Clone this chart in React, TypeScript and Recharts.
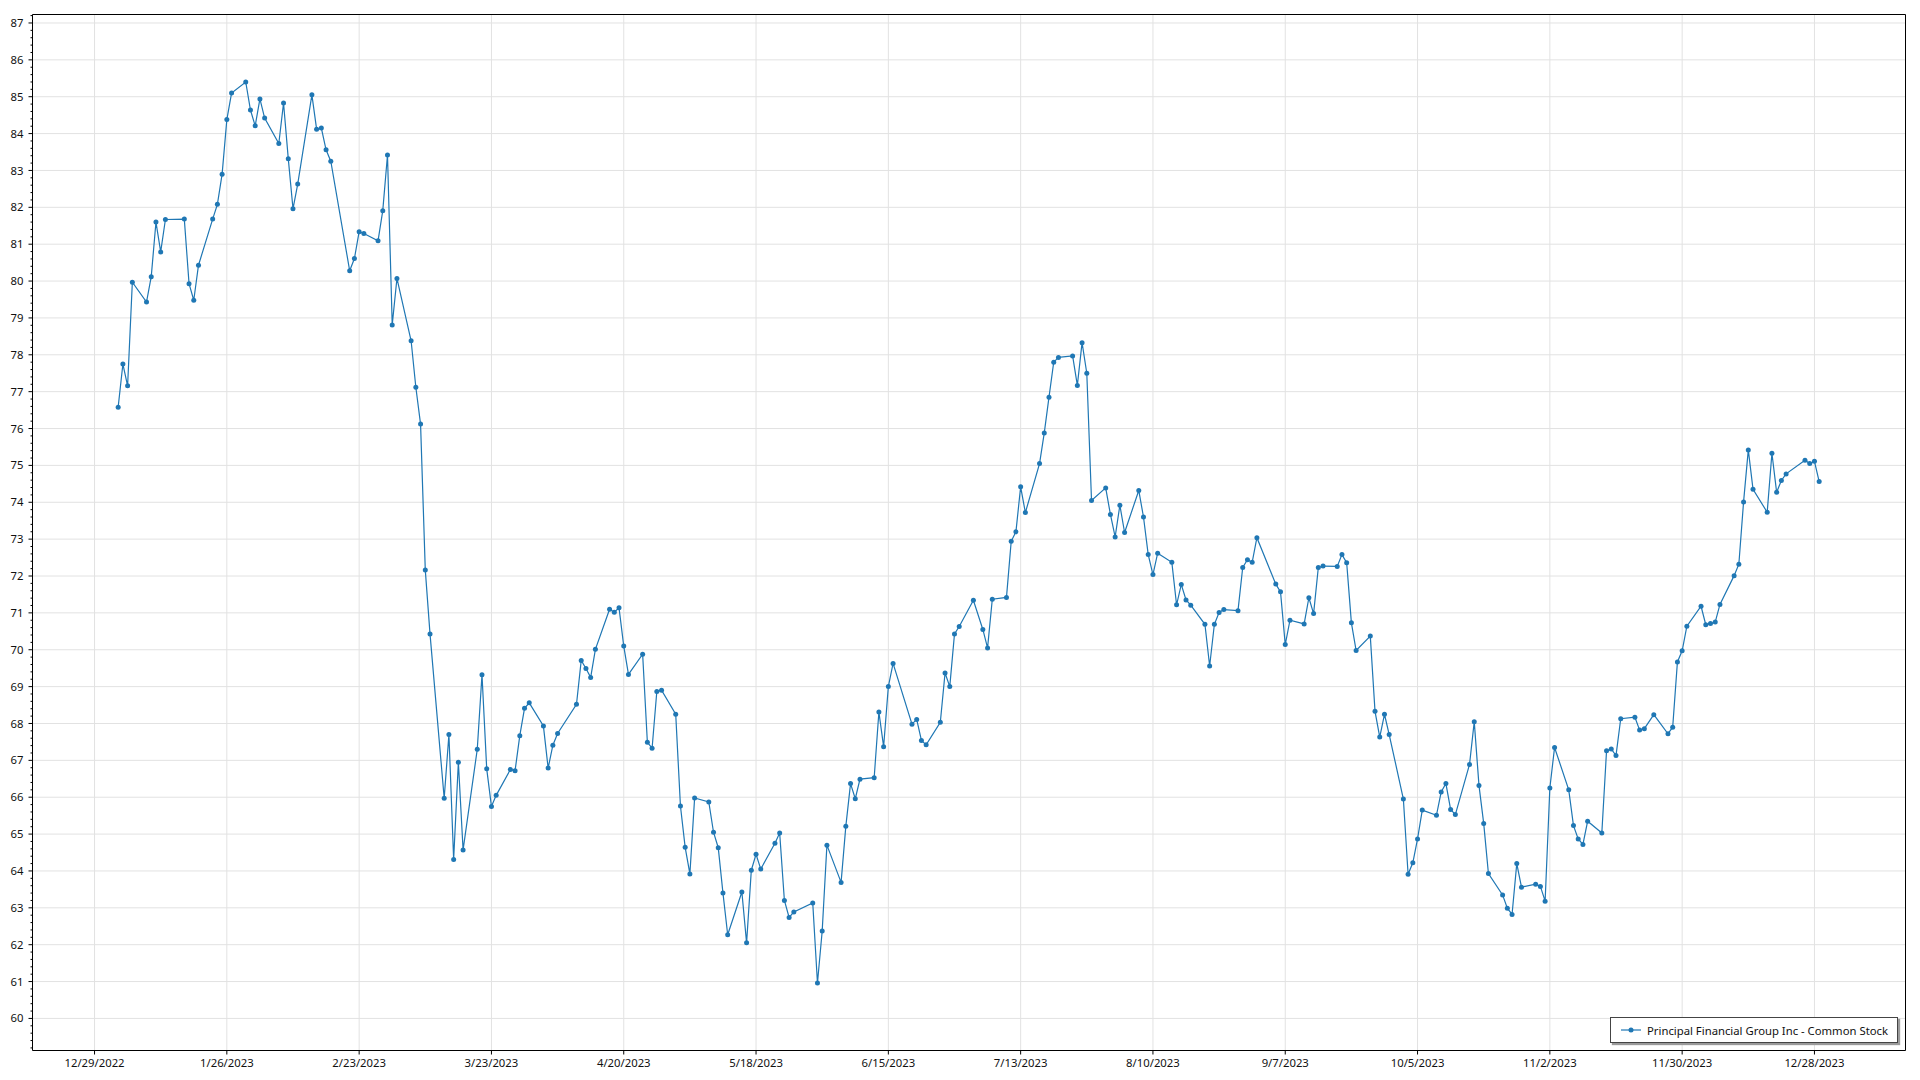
import React from "react";
import { LineChart, Line, XAxis, YAxis, CartesianGrid } from "recharts";

// closing prices per trading day, month by month (2023)
const JAN_DAYS = [3, 4, 5, 6, 9, 10, 11, 12, 13, 17, 18, 19, 20, 23, 24, 25, 26, 27, 30, 31];
const JAN_CLOSE = [76.58, 77.75, 77.16, 79.97, 79.43, 80.12, 81.6, 80.79, 81.67, 81.68, 79.93, 79.48, 80.43, 81.68, 82.08, 82.9, 84.38, 85.1, 85.4, 84.64];

const FEB_DAYS = [1, 2, 3, 6, 7, 8, 9, 10, 13, 14, 15, 16, 17, 21, 22, 23, 24, 27, 28];
const FEB_CLOSE = [84.21, 84.94, 84.42, 83.73, 84.83, 83.32, 81.96, 82.63, 85.05, 84.12, 84.15, 83.56, 83.25, 80.28, 80.61, 81.34, 81.29, 81.09, 81.91];

const MAR_DAYS = [1, 2, 3, 6, 7, 8, 9, 10, 13, 14, 15, 16, 17, 20, 21, 22, 23, 24, 27, 28, 29, 30, 31];
const MAR_CLOSE = [83.42, 78.81, 80.07, 78.38, 77.12, 76.12, 72.16, 70.43, 65.97, 67.7, 64.31, 66.95, 64.57, 67.3, 69.32, 66.77, 65.75, 66.05, 66.75, 66.72, 67.67, 68.41, 68.56];

const APR_DAYS = [3, 4, 5, 6, 10, 11, 12, 13, 14, 17, 18, 19, 20, 21, 24, 25, 26, 27, 28];
const APR_CLOSE = [67.93, 66.79, 67.41, 67.73, 68.52, 69.71, 69.49, 69.25, 70.01, 71.1, 71.02, 71.14, 70.1, 69.33, 69.88, 67.49, 67.33, 68.87, 68.9];

const MAY_DAYS = [1, 2, 3, 4, 5, 8, 9, 10, 11, 12, 15, 16, 17, 18, 19, 22, 23, 24, 25, 26, 30, 31];
const MAY_CLOSE = [68.25, 65.76, 64.64, 63.92, 65.98, 65.87, 65.05, 64.63, 63.4, 62.27, 63.43, 62.05, 64.02, 64.45, 64.05, 64.75, 65.03, 63.2, 62.74, 62.89, 63.13, 60.96];

const JUN_DAYS = [1, 2, 5, 6, 7, 8, 9, 12, 13, 14, 15, 16, 20, 21, 22, 23, 26, 27, 28, 29, 30];
const JUN_CLOSE = [62.37, 64.7, 63.69, 65.21, 66.37, 65.96, 66.49, 66.53, 68.31, 67.37, 69.0, 69.63, 67.98, 68.11, 67.54, 67.42, 68.03, 69.37, 69.0, 70.43, 70.63];

const JUL_DAYS = [3, 5, 6, 7, 10, 11, 12, 13, 14, 17, 18, 19, 20, 21, 24, 25, 26, 27, 28, 31];
const JUL_CLOSE = [71.34, 70.55, 70.05, 71.37, 71.42, 72.94, 73.2, 74.42, 73.72, 75.05, 75.88, 76.85, 77.8, 77.93, 77.97, 77.17, 78.33, 77.5, 74.05, 74.39];

const AUG_DAYS = [1, 2, 3, 4, 7, 8, 9, 10, 11, 14, 15, 16, 17, 18, 21, 22, 23, 24, 25, 28, 29, 30, 31];
const AUG_CLOSE = [73.67, 73.06, 73.92, 73.18, 74.32, 73.6, 72.58, 72.04, 72.62, 72.37, 71.22, 71.77, 71.35, 71.21, 70.69, 69.56, 70.69, 71.01, 71.09, 71.06, 72.23, 72.44, 72.37];

const SEP_DAYS = [1, 5, 6, 7, 8, 11, 12, 13, 14, 15, 18, 19, 20, 21, 22, 25, 26, 27, 28, 29];
const SEP_CLOSE = [73.04, 71.78, 71.57, 70.14, 70.8, 70.7, 71.41, 70.98, 72.23, 72.27, 72.26, 72.58, 72.36, 70.73, 69.98, 70.37, 68.33, 67.63, 68.25, 67.7];

const OCT_DAYS = [2, 3, 4, 5, 6, 9, 10, 11, 12, 13, 16, 17, 18, 19, 20, 23, 24, 25, 26, 27, 30, 31];
const OCT_CLOSE = [65.95, 63.91, 64.22, 64.87, 65.65, 65.51, 66.14, 66.37, 65.67, 65.53, 66.89, 68.05, 66.32, 65.29, 63.93, 63.35, 62.99, 62.82, 64.2, 63.56, 63.64, 63.58];

const NOV_DAYS = [1, 2, 3, 6, 7, 8, 9, 10, 13, 14, 15, 16, 17, 20, 21, 22, 24, 27, 28, 29, 30];
const NOV_CLOSE = [63.18, 66.25, 67.35, 66.2, 65.23, 64.87, 64.72, 65.35, 65.03, 67.26, 67.31, 67.13, 68.13, 68.17, 67.82, 67.86, 68.24, 67.72, 67.9, 69.67, 69.97];

const DEC_DAYS = [1, 4, 5, 6, 7, 8, 11, 12, 13, 14, 15, 18, 19, 20, 21, 22, 26, 27, 28, 29];
const DEC_CLOSE = [70.64, 71.18, 70.68, 70.71, 70.75, 71.23, 72.01, 72.32, 74.01, 75.42, 74.35, 73.73, 75.33, 74.27, 74.59, 74.77, 75.14, 75.05, 75.11, 74.56];

const X_TICK_LABELS = [
  "12/29/2022", "1/26/2023", "2/23/2023", "3/23/2023", "4/20/2023", "5/18/2023", "6/15/2023",
  "7/13/2023", "8/10/2023", "9/7/2023", "10/5/2023", "11/2/2023", "11/30/2023", "12/28/2023",
];
const Y_TICKS = [60, 61, 62, 63, 64, 65, 66, 67, 68, 69, 70, 71, 72, 73, 74, 75, 76, 77, 78, 79, 80, 81, 82, 83, 84, 85, 86, 87];

const SERIES_NAME = "Principal Financial Group Inc - Common Stock";
const LINE_COLOR = "#1f77b4";

const MONTH_DAYS = [JAN_DAYS, FEB_DAYS, MAR_DAYS, APR_DAYS, MAY_DAYS, JUN_DAYS, JUL_DAYS, AUG_DAYS, SEP_DAYS, OCT_DAYS, NOV_DAYS, DEC_DAYS];
const MONTH_CLOSE = [JAN_CLOSE, FEB_CLOSE, MAR_CLOSE, APR_CLOSE, MAY_CLOSE, JUN_CLOSE, JUL_CLOSE, AUG_CLOSE, SEP_CLOSE, OCT_CLOSE, NOV_CLOSE, DEC_CLOSE];

// x values are days counted from 12/29/2022
const ORIGIN = Date.UTC(2022, 11, 29);
const dayIndex = (y: number, m: number, d: number) => (Date.UTC(y, m - 1, d) - ORIGIN) / 86400000;

const data = MONTH_DAYS.flatMap((days, i) =>
  days.map((d, j) => ({ t: dayIndex(2023, i + 1, d), close: MONTH_CLOSE[i][j] }))
);

const xTicks = X_TICK_LABELS.map((s) => {
  const [m, d, y] = s.split("/").map(Number);
  return dayIndex(y, m, d);
});
const xLabel = (v: number) => X_TICK_LABELS[xTicks.indexOf(v)] ?? "";

// value axis: labelled ticks every 1, minor ticks every 0.2
const yAllTicks: number[] = [];
for (let k = 296; k <= 436; k++) yAllTicks.push(k / 5);

const X_DOMAIN: [number, number] = [-13.13, 383.27];
const Y_DOMAIN: [number, number] = [59.13, 87.23];

const FONT = "'Noto Sans', 'Open Sans', sans-serif";
const FONT_SIZE = 11.3;
const TEXT_COLOR = "#111";

const YTick = (props: any) => {
  const { x, y, payload } = props;
  const v = payload.value as number;
  const major = Math.abs(v - Math.round(v)) < 1e-6;
  return (
    <g>
      <line x1={x - (major ? 4 : 2)} x2={x} y1={y} y2={y} stroke="#000" strokeWidth={1} />
      {major && (
        <text
          x={x - 9}
          y={y}
          dy="0.36em"
          textAnchor="end"
          fill={TEXT_COLOR}
          fontSize={FONT_SIZE}
          fontFamily={FONT}
        >
          {Math.round(v)}
        </text>
      )}
    </g>
  );
};

const Legend = () => (
  <div
    style={{
      position: "absolute",
      left: 1610,
      top: 1017,
      width: 286,
      height: 24,
      border: "1px solid #444",
      background: "#fff",
      boxShadow: "2px 2px 1px #9a9a9a",
      display: "flex",
      alignItems: "center",
      fontFamily: FONT,
      fontSize: FONT_SIZE,
      color: TEXT_COLOR,
    }}
  >
    <svg width={36} height={24} style={{ flex: "none" }}>
      <line x1={10} x2={30} y1={12} y2={12} stroke={LINE_COLOR} strokeWidth={1.2} />
      <circle cx={20} cy={12} r={2.5} fill={LINE_COLOR} />
    </svg>
    <span style={{ whiteSpace: "nowrap" }}>{SERIES_NAME}</span>
  </div>
);

export default function App() {
  return (
    <div style={{ position: "absolute", left: 0, top: 0, width: 1920, height: 1080, background: "#fff" }}>
      <LineChart
        width={1920}
        height={1080}
        data={data}
        margin={{ top: 13.5, right: 13.5, bottom: 0.5, left: 0.5 }}
      >
        <CartesianGrid stroke="#e2e2e2" strokeWidth={1} horizontalValues={Y_TICKS} />
        <XAxis
          dataKey="t"
          type="number"
          domain={X_DOMAIN}
          allowDataOverflow
          ticks={xTicks}
          interval={0}
          tickFormatter={xLabel}
          height={29}
          tick={{ fill: TEXT_COLOR, fontSize: FONT_SIZE, fontFamily: FONT }}
          tickSize={4}
          tickMargin={4}
          axisLine={{ stroke: "#000" }}
          tickLine={{ stroke: "#000" }}
        />
        <XAxis
          xAxisId="top"
          orientation="top"
          dataKey="t"
          type="number"
          domain={X_DOMAIN}
          allowDataOverflow
          height={1}
          tick={false}
          tickLine={false}
          axisLine={{ stroke: "#000" }}
        />
        <YAxis
          type="number"
          domain={Y_DOMAIN}
          allowDataOverflow
          ticks={yAllTicks}
          interval={0}
          width={32}
          tick={<YTick />}
          tickSize={0}
          tickMargin={0}
          tickLine={false}
          axisLine={{ stroke: "#000" }}
        />
        <YAxis
          yAxisId="right"
          orientation="right"
          type="number"
          domain={Y_DOMAIN}
          allowDataOverflow
          width={1}
          tick={false}
          tickLine={false}
          axisLine={{ stroke: "#000" }}
        />
        <Line
          type="linear"
          dataKey="close"
          name={SERIES_NAME}
          stroke={LINE_COLOR}
          strokeWidth={1.2}
          dot={{ r: 2.5, fill: LINE_COLOR, stroke: "none" }}
          activeDot={false}
          isAnimationActive={false}
        />
      </LineChart>
      <Legend />
    </div>
  );
}
